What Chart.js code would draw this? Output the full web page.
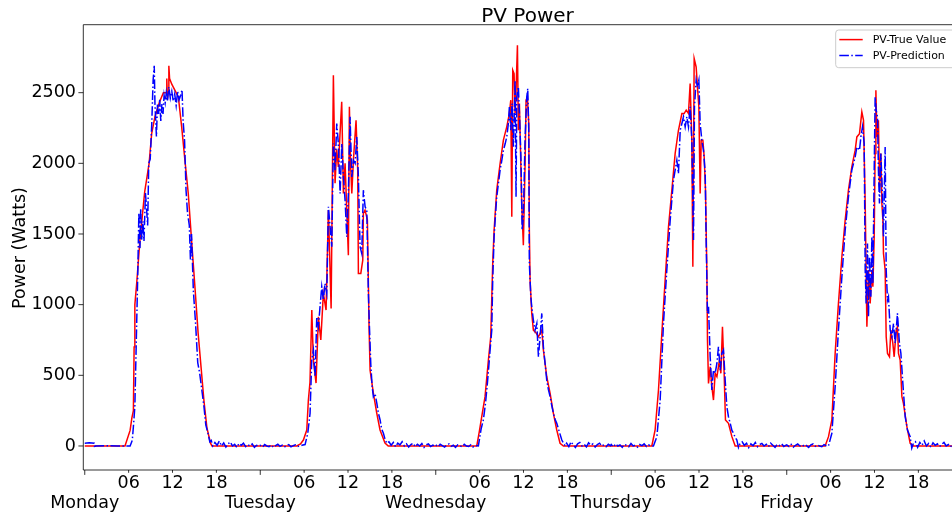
<!DOCTYPE html>
<html><head><meta charset="utf-8">
<script src="https://cdn.jsdelivr.net/npm/chart.js@4.4.0/dist/chart.umd.min.js"></script>
<style>html,body{margin:0;padding:0;background:#fff;overflow:hidden}canvas{display:block}</style>
</head><body>
<canvas id="c" width="952" height="517"></canvas>
<script>
// ---------- tick labels ----------
const dayNames = ['Monday','Tuesday','Wednesday','Thursday','Friday'];
const hourLabels = ['06','12','18'];
const yTicks = [0,500,1000,1500,2000,2500];
const titleText = 'PV Power';
const yAxisTitle = 'Power (Watts)';
const seriesNames = ['PV-True Value','PV-Prediction'];

// ---------- data: [hour of day, watts] ----------
const mondayTrue = [[0,0],[5.5,0],[6.2,110],[6.45,200],[6.65,250],[6.75,700],[6.85,1000],[7.1,1150],[7.55,1460],[8.2,1800],[8.8,2000],[9.15,2210],[9.6,2330],[10.2,2430],[10.75,2500],[11.15,2500],[11.22,2600],[11.3,2450],[11.4,2500],[11.5,2690],[11.6,2600],[11.9,2560],[12.3,2520],[12.8,2470],[13.25,2260],[13.7,2020],[14.15,1790],[14.6,1460],[15.1,1100],[15.5,800],[15.9,560],[16.3,320],[16.7,130],[17.2,20],[17.4,0],[24,0]];
const mondayPred = [[0,20],[0.6,22],[1.3,20],[1.35,-15],[1.45,0],[3,2],[4.5,0],[6.2,0],[6.5,40],[6.7,170],[6.85,280],[7.05,750],[7.25,1220],[7.4,1650],[7.55,1400],[7.65,1680],[7.8,1460],[7.95,1590],[8.1,1450],[8.3,1790],[8.45,1680],[8.6,1560],[8.75,2000],[8.95,2030],[9.15,2260],[9.35,2590],[9.5,2690],[9.6,2420],[9.8,2190],[9.95,2420],[10.1,2350],[10.25,2450],[10.4,2300],[10.55,2420],[10.7,2350],[10.85,2480],[11.0,2430],[11.15,2500],[11.3,2440],[11.5,2540],[11.7,2460],[11.9,2510],[12.1,2440],[12.3,2490],[12.5,2410],[12.7,2510],[12.9,2450],[13.1,2480],[13.3,2520],[13.45,2300],[13.65,2160],[13.85,1810],[14.05,1650],[14.3,1560],[14.45,1320],[14.6,1500],[14.85,1100],[15.15,870],[15.45,590],[15.7,520],[15.95,420],[16.3,280],[16.55,150],[16.85,90],[17.1,30],[17.3,40],[17.5,0],[17.8,25],[18.1,5],[18.4,35],[18.7,0],[19.0,22],[19.3,-8],[19.6,15],[19.9,28],[20.2,0],[20.5,12],[20.8,-10],[21.1,18],[21.4,5],[21.7,20],[22.0,-5],[22.3,10],[22.6,0],[22.9,15],[23.2,-10],[23.5,5],[23.8,0]];

const tuesdayTrue = [[0,0],[5.0,0],[5.5,15],[5.9,42],[6.36,113],[6.58,325],[6.8,450],[7.05,962],[7.26,608],[7.63,445],[7.95,914],[8.28,750],[8.63,1080],[9.0,962],[9.32,1669],[9.69,973],[10.0,2623],[10.23,1860],[10.45,2100],[10.68,1975],[10.9,2200],[11.14,2435],[11.37,1787],[11.6,2000],[11.83,1669],[12.05,1350],[12.19,2400],[12.35,2000],[12.52,1787],[12.74,2022],[13.1,2305],[13.33,1952],[13.42,1221],[13.75,1221],[14.02,1315],[14.1,1645],[14.33,1669],[14.65,1600],[14.88,843],[15.02,537],[15.47,374],[15.93,233],[16.38,113],[17.06,21],[17.5,0],[24,0]];
const tuesdayPred = [[0,5],[0.3,-8],[0.6,10],[0.9,0],[1.2,-5],[1.5,8],[1.8,-10],[2.1,3],[2.4,12],[2.7,-3],[3.0,6],[3.3,-8],[3.6,4],[3.9,10],[4.2,-6],[4.5,2],[4.8,8],[5.1,-4],[5.4,0],[5.7,5],[6.13,10],[6.5,90],[6.81,231],[7.04,608],[7.27,679],[7.5,490],[7.73,914],[7.95,844],[8.2,1000],[8.41,1127],[8.63,1032],[8.85,1150],[9.1,1080],[9.32,1692],[9.55,1551],[9.78,1410],[10.0,2140],[10.23,1952],[10.46,2282],[10.68,2140],[10.92,1787],[11.15,2140],[11.37,1904],[11.6,1740],[11.83,1480],[12.05,1787],[12.28,2329],[12.52,1904],[12.74,2022],[12.97,2000],[13.2,2187],[13.42,1904],[13.65,1410],[13.88,1362],[14.1,1810],[14.34,1692],[14.57,1669],[14.79,1080],[14.93,844],[15.12,573],[15.3,420],[15.47,349],[15.7,370],[15.95,300],[16.16,231],[16.39,184],[16.6,120],[16.84,90],[17.05,50],[17.3,19],[17.6,30],[17.9,5],[18.2,25],[18.5,-5],[18.8,20],[19.1,8],[19.4,30],[19.7,0],[20.0,15],[20.3,-8],[20.6,10],[20.9,20],[21.2,-5],[21.5,12],[21.8,0],[22.1,18],[22.4,-10],[22.7,8],[23.0,14],[23.3,-4],[23.6,6],[23.9,0]];

const wednesdayTrue = [[0,0],[5.61,0],[5.95,100],[6.29,207],[6.74,349],[7.2,608],[7.52,773],[7.79,1292],[7.98,1527],[8.34,1810],[8.8,1999],[9.25,2164],[9.71,2258],[10.07,2352],[10.26,2447],[10.4,1622],[10.53,2659],[10.71,2635],[10.85,2352],[10.98,2517],[11.17,2836],[11.3,2234],[11.44,2423],[11.63,1999],[11.76,1716],[11.98,1421],[12.22,1999],[12.35,2447],[12.53,2470],[12.72,2282],[12.8,1527],[12.9,1174],[13.13,938],[13.35,820],[13.72,800],[14.04,773],[14.5,820],[14.72,679],[15.18,490],[15.64,373],[16.09,231],[16.55,113],[17.0,19],[17.46,0],[24,0]];
const wednesdayPred = [[0,8],[0.3,-5],[0.6,12],[0.9,2],[1.2,-8],[1.5,6],[1.8,15],[2.1,-3],[2.4,5],[2.7,-10],[3.0,8],[3.3,2],[3.6,-6],[3.9,12],[4.2,0],[4.5,-4],[4.8,9],[5.1,-7],[5.4,4],[5.83,0],[6.2,120],[6.51,184],[6.8,300],[7.06,443],[7.25,560],[7.43,679],[7.66,820],[7.79,1174],[7.98,1480],[8.15,1620],[8.34,1763],[8.55,1850],[8.8,1952],[9.0,2010],[9.25,2093],[9.5,2140],[9.71,2187],[9.93,2282],[10.07,2399],[10.26,2234],[10.44,2423],[10.62,2117],[10.85,2588],[10.98,1763],[11.08,2470],[11.3,2541],[11.53,2234],[11.67,1999],[11.81,1527],[11.98,1622],[12.22,2187],[12.45,2470],[12.58,2529],[12.72,2234],[12.8,1292],[13.0,1056],[13.13,985],[13.35,891],[13.58,820],[13.82,867],[14.04,631],[14.27,773],[14.5,938],[14.72,702],[14.95,585],[15.18,466],[15.4,400],[15.64,349],[15.85,290],[16.09,231],[16.3,190],[16.55,160],[16.9,100],[17.24,42],[17.69,0],[17.9,20],[18.2,-5],[18.5,30],[18.8,8],[19.1,-10],[19.4,15],[19.7,25],[20.0,0],[20.3,12],[20.6,-6],[20.9,22],[21.2,5],[21.5,15],[21.8,-8],[22.1,10],[22.4,20],[22.7,0],[23.0,8],[23.3,-5],[23.6,12],[23.9,2]];

const thursdayTrue = [[0,0],[5.55,0],[6.0,113],[6.46,396],[6.92,797],[7.37,1174],[7.83,1551],[8.29,1810],[8.74,2070],[9.19,2234],[9.66,2352],[9.97,2352],[10.25,2376],[10.56,2352],[10.79,2565],[11.02,2164],[11.16,1268],[11.34,2741],[11.61,2682],[11.79,2541],[11.98,2400],[12.16,1787],[12.3,2164],[12.53,2164],[12.71,2046],[12.89,1810],[13.08,1221],[13.16,750],[13.3,443],[13.53,561],[13.76,420],[13.98,325],[14.21,514],[14.45,490],[14.8,608],[14.99,514],[15.21,844],[15.44,514],[15.62,184],[16.03,160],[16.5,66],[16.95,0],[24,0]];
const thursdayPred = [[0,10],[0.3,-6],[0.6,15],[0.9,0],[1.2,8],[1.5,-10],[1.8,12],[2.1,4],[2.4,-5],[2.7,18],[3.0,0],[3.3,6],[3.6,-8],[3.9,10],[4.2,2],[4.5,15],[4.8,-4],[5.1,8],[5.4,0],[5.77,0],[6.24,66],[6.69,325],[7.14,867],[7.6,1245],[8.06,1598],[8.51,1881],[8.97,2022],[9.19,1928],[9.43,2234],[9.66,2282],[9.88,2329],[10.11,2258],[10.34,2329],[10.56,2258],[10.79,2400],[11.02,2164],[11.25,1457],[11.38,2400],[11.61,2588],[11.79,2541],[11.98,2588],[12.16,2282],[12.39,2164],[12.61,2093],[12.85,1928],[12.98,1457],[13.16,938],[13.3,985],[13.53,631],[13.76,396],[13.98,537],[14.21,514],[14.45,584],[14.66,702],[14.9,537],[15.13,655],[15.35,679],[15.58,467],[15.81,278],[16.03,207],[16.27,160],[16.5,110],[16.72,90],[16.95,60],[17.18,42],[17.4,-10],[17.63,19],[17.9,30],[18.2,5],[18.5,20],[18.8,-12],[19.1,15],[19.4,2],[19.7,25],[20.0,-5],[20.3,10],[20.6,18],[20.9,0],[21.2,12],[21.5,-6],[21.8,20],[22.1,5],[22.4,-10],[22.7,12],[23.0,3],[23.3,16],[23.6,-4],[23.9,6]];

const fridayTrue = [[0,0],[5.25,0],[5.71,66],[6.17,184],[6.62,655],[7.07,1009],[7.54,1339],[7.99,1598],[8.44,1810],[8.9,1975],[9.36,2093],[9.59,2187],[9.95,2210],[10.27,2364],[10.5,2305],[10.73,1716],[10.96,844],[11.18,1245],[11.41,1009],[11.64,1245],[11.78,1127],[11.96,1480],[12.09,2070],[12.19,2517],[12.33,2187],[12.54,2305],[12.68,1834],[12.87,2070],[13.01,1716],[13.15,1598],[13.23,1362],[13.46,1245],[13.6,773],[13.78,655],[14.05,631],[14.24,820],[14.51,726],[14.69,631],[14.97,820],[15.14,844],[15.28,655],[15.51,608],[15.75,349],[15.96,302],[16.43,137],[16.88,19],[17.33,0],[24,0]];
const fridayPred = [[0,8],[0.3,-4],[0.6,12],[0.9,-8],[1.2,5],[1.5,15],[1.8,0],[2.1,-6],[2.4,10],[2.7,3],[3.0,-10],[3.3,8],[3.6,14],[3.9,-3],[4.2,6],[4.5,0],[4.8,-5],[5.1,10],[5.4,2],[5.71,0],[6.17,90],[6.62,420],[7.07,820],[7.54,1197],[7.99,1527],[8.44,1763],[8.9,1952],[9.36,2046],[9.59,2116],[9.95,2093],[10.14,2187],[10.36,2258],[10.59,2140],[10.73,1245],[10.86,1009],[11.04,1433],[11.18,914],[11.31,1339],[11.5,1056],[11.64,1480],[11.78,1150],[11.96,1952],[12.09,2470],[12.23,2376],[12.41,2329],[12.54,1952],[12.68,1716],[12.87,2070],[13.05,1834],[13.23,1480],[13.46,2116],[13.6,1245],[13.78,1032],[13.91,1056],[14.15,820],[14.38,773],[14.6,867],[14.83,726],[15.14,938],[15.41,726],[15.61,655],[15.88,443],[16.2,207],[16.51,113],[16.88,66],[17.1,-15],[17.33,20],[17.6,30],[17.9,-10],[18.2,25],[18.5,5],[18.8,35],[19.1,0],[19.4,18],[19.7,-8],[20.0,22],[20.3,5],[20.6,15],[20.9,-5],[21.2,12],[21.5,25],[21.8,0],[22.1,10],[22.4,-6],[22.7,15],[23.0,4],[23.3,-3],[23.6,10],[23.9,0]];

const trueByDay = [mondayTrue, tuesdayTrue, wednesdayTrue, thursdayTrue, fridayTrue];
const predByDay = [mondayPred, tuesdayPred, wednesdayPred, thursdayPred, fridayPred];

// ---------- build ----------
function toPoints(byDay){
  const out = [];
  byDay.forEach((arr, d) => arr.forEach(([h, v]) => out.push({x: d*24 + h, y: v})));
  return out;
}
const xTickValues = [];
const xTickText = [];
dayNames.forEach((name, d) => {
  xTickValues.push(d*24); xTickText.push(['', name]);
  hourLabels.forEach((lab, k) => { xTickValues.push(d*24 + (k+1)*6); xTickText.push(lab); });
});

const FONT = '"DejaVu Sans", sans-serif';
Chart.defaults.font.family = FONT;

const decor = {
  id: 'decor',
  beforeDraw(chart){
    const c = chart.ctx; c.save(); c.fillStyle = '#fff'; c.fillRect(0,0,chart.width,chart.height); c.restore();
  },
  afterDraw(chart){
    const ctx = chart.ctx, a = chart.chartArea, xs = chart.scales.x, ys = chart.scales.y;
    ctx.save();
    ctx.strokeStyle = '#000'; ctx.lineWidth = 0.8; ctx.setLineDash([]);
    ctx.beginPath();
    ctx.moveTo(a.left, a.bottom); ctx.lineTo(a.left, a.top); ctx.lineTo(a.right + 5, a.top);
    ctx.moveTo(a.left, a.bottom); ctx.lineTo(a.right + 5, a.bottom);
    ctx.stroke();
    ctx.beginPath();
    yTicks.forEach(v => { const p = ys.getPixelForValue(v); ctx.moveTo(a.left - 4.9, p); ctx.lineTo(a.left, p); });
    xTickValues.forEach(v => { const p = xs.getPixelForValue(v); const L = (v % 24 === 0) ? 4.9 : 2.8; ctx.moveTo(p, a.bottom); ctx.lineTo(p, a.bottom + L); });
    ctx.stroke();

    // title
    ctx.fillStyle = '#000';
    ctx.font = '20px ' + FONT; ctx.textAlign = 'center'; ctx.textBaseline = 'alphabetic';
    ctx.fillText(titleText, 527.5, 21.7);

    // y axis title
    ctx.save();
    ctx.translate(25, 248); ctx.rotate(-Math.PI/2);
    ctx.font = '17.5px ' + FONT; ctx.textAlign = 'center'; ctx.textBaseline = 'alphabetic';
    ctx.fillText(yAxisTitle, 0, 0);
    ctx.restore();

    // legend
    const lx = 835.7, ly = 30, lw = 140, lh = 37.7, r = 3;
    ctx.beginPath();
    ctx.moveTo(lx + r, ly); ctx.lineTo(lx + lw, ly); ctx.lineTo(lx + lw, ly + lh); ctx.lineTo(lx + r, ly + lh);
    ctx.arcTo(lx, ly + lh, lx, ly + lh - r, r); ctx.lineTo(lx, ly + r); ctx.arcTo(lx, ly, lx + r, ly, r);
    ctx.closePath();
    ctx.fillStyle = 'rgba(255,255,255,0.8)'; ctx.fill();
    ctx.strokeStyle = '#cccccc'; ctx.lineWidth = 1; ctx.stroke();
    const rows = [
      {y: 39.6, color: 'rgb(255,0,0)', dash: []},
      {y: 55.4, color: 'rgb(0,0,255)', dash: [9.6, 2.4, 1.5, 2.4]}
    ];
    rows.forEach((row, i) => {
      ctx.beginPath(); ctx.strokeStyle = row.color; ctx.lineWidth = 1.5; ctx.setLineDash(row.dash);
      ctx.moveTo(839.3, row.y); ctx.lineTo(862.7, row.y); ctx.stroke();
      ctx.setLineDash([]);
      ctx.fillStyle = '#000'; ctx.font = '11px ' + FONT; ctx.textAlign = 'left'; ctx.textBaseline = 'middle';
      ctx.fillText(seriesNames[i], 872.7, row.y + 0.5);
    });
    ctx.restore();
  }
};

new Chart(document.getElementById('c'), {
  type: 'line',
  data: {
    datasets: [
      { label: seriesNames[0], data: toPoints(trueByDay), borderColor: 'rgb(255,0,0)', borderWidth: 1.5, pointRadius: 0, tension: 0, fill: false, order: 2 },
      { label: seriesNames[1], data: toPoints(predByDay), borderColor: 'rgb(0,0,255)', borderWidth: 1.5, borderDash: [9.6, 2.4, 1.5, 2.4], pointRadius: 0, tension: 0, fill: false, order: 1 }
    ]
  },
  options: {
    responsive: false, animation: false, devicePixelRatio: 1,
    layout: { padding: { top: 24.7, right: 0, left: 0, bottom: 0 } },
    plugins: { legend: { display: false }, title: { display: false }, tooltip: { enabled: false } },
    scales: {
      x: {
        type: 'linear', min: -0.2, max: 118.6,
        grid: { display: false, drawTicks: false }, border: { display: false },
        afterBuildTicks: s => { s.ticks = xTickValues.map(v => ({value: v})); },
        afterFit: s => { s.height = 47; },
        ticks: {
          autoSkip: false, maxRotation: 0, minRotation: 0, padding: 3.2, color: '#000',
          font: { size: 17.5, family: FONT, lineHeight: 1.16 },
          callback: (v, i) => xTickText[i]
        }
      },
      y: {
        type: 'linear', min: -170, max: 2981,
        grid: { display: false, drawTicks: false }, border: { display: false },
        afterBuildTicks: s => { s.ticks = yTicks.map(v => ({value: v})); },
        afterFit: s => { s.width = 83.3; },
        ticks: { padding: 7.3, color: '#000', font: { size: 17.5, family: FONT }, callback: v => String(v) }
      }
    }
  },
  plugins: [decor]
});
</script>
</body></html>
